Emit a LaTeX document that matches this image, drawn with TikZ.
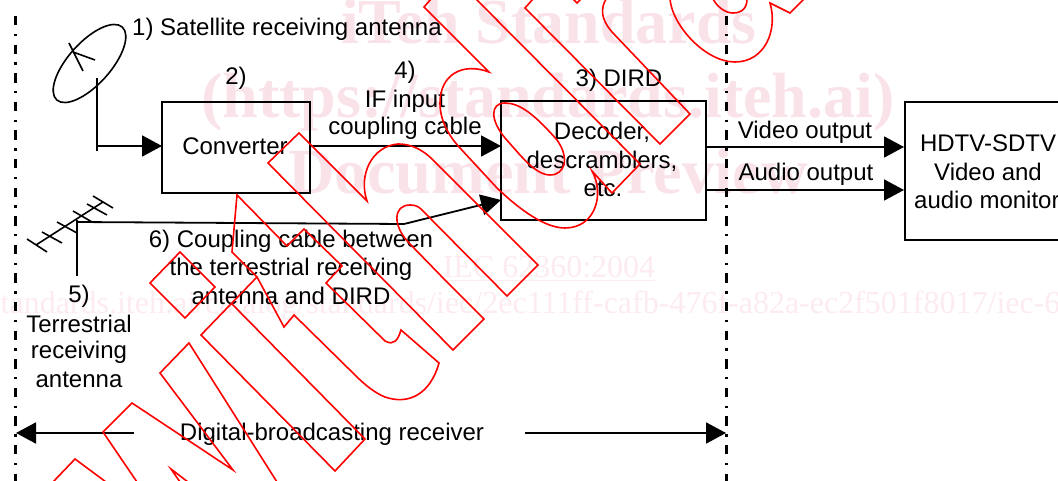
\documentclass[tikz,border=0pt]{standalone}
\usepackage{fontspec}
\usetikzlibrary{arrows.meta}
\setmainfont{Liberation Sans}
\newfontfamily\wmfont{Liberation Serif}
\definecolor{wmA}{HTML}{F9E3E9}
\definecolor{wmB}{HTML}{FCEBF0}
\tikzset{
  lbl/.style={inner sep=0pt,align=center,font=\fontsize{24}{28}\selectfont,text=black},
  boxn/.style={draw=black,line width=2pt,inner sep=0pt,fill=none},
  conn/.style={draw=black,line width=1.8pt,-{Triangle[length=20pt,width=21pt]}},
  wire/.style={draw=black,line width=1.6pt},
  border/.style={draw=black,line width=3.2pt,dash pattern=on 9.4pt off 8.4pt on 2.4pt off 8.4pt},
  wmbig/.style={inner sep=0pt,text=wmA,font=\wmfont\bfseries\fontsize{64}{70}\selectfont},
  wmsmall/.style={inner sep=0pt,text=wmB,font=\wmfont\fontsize{32}{36}\selectfont},
  redl/.style={draw=red,line width=1.6pt,line join=miter}
}
\begin{document}
\begin{tikzpicture}[x=1pt,y=-1pt]
\useasboundingbox (0,0) rectangle (1058,481);
\begin{scope}
\clip (0,0) rectangle (1058,481);
% pale watermark text
\node[wmbig,anchor=base] (wm1) at (549,44) {iTeh Standards};
\node[wmbig,anchor=base] (wm2) at (548,118) {(https://standards.iteh.ai)};
\node[wmbig,anchor=base] (wm3) at (548,194) {\fontsize{64.4}{70}\selectfont Document Preview};
\node[wmsmall,anchor=base] (wm4) at (549,278) {\underline{IEC 62360:2004}};
\node[wmsmall,anchor=base west] (wm5) at (-12,313) {standards.iteh.ai/catalog/standards/iec/2ec111ff-cafb-476f-a82a-ec2f501f8017/iec-62360-2004};
\end{scope}
% boundaries
\coordinate (bl1) at (15.5,16); \coordinate (bl2) at (15.5,481);
\coordinate (br1) at (726.5,16); \coordinate (br2) at (726.5,481);
\draw[border] (bl1) -- (bl2);
\draw[border] (br1) -- (br2);
% boxes
\node[boxn,minimum width=148pt,minimum height=91pt] (conv) at (236,148) {};
\node[boxn,minimum width=205pt,minimum height=119pt] (dird) at (603,160.5) {};
\node[boxn,minimum width=200pt,minimum height=138pt,anchor=north west] (mon) at (903.5,101.5) {};
% dish
\draw[wire,rotate around={48:(89.5,63.5)}] (89.5,63.5) ellipse [x radius=49pt,y radius=21pt];
\draw[wire] (69,43) -- (83,71);
\draw[wire] (73,52) -- (95,60);
\coordinate (d1) at (97,78); \coordinate (d2) at (97,151); \coordinate (d3) at (97,146);
\draw[wire] (d1) -- (d2);
\coordinate (convin) at (162,146);
\draw[conn] (d3) -- (convin);
\coordinate (convout) at (310,146); \coordinate (dirdin) at (501,146);
\draw[conn] (convout) -- (dirdin);
\coordinate (vo1) at (705,147); \coordinate (vo2) at (904,147);
\coordinate (ao1) at (705,190); \coordinate (ao2) at (904,190);
\draw[conn] (vo1) -- (vo2);
\draw[conn] (ao1) -- (ao2);
% yagi
\draw[wire] (36,245) -- (103,202);
\draw[wire] (27,239) -- (47,252);
\draw[wire] (42,232) -- (62,243);
\draw[wire] (57,222) -- (77,233);
\draw[wire] (73,211) -- (92,222);
\draw[wire] (87,204) -- (107,215);
\draw[wire] (93,196) -- (113,208);
\draw[wire] (77,220) -- (77,276);
\draw[wire] (77,222) -- (92,222);
\coordinate (t1) at (77,222); \coordinate (t2) at (404,224); \coordinate (t3) at (501,200);
\draw[conn] (t1) -- (t2) -- (t3);
% receiver span
\coordinate (sl1) at (134,433); \coordinate (sl2) at (16,433);
\coordinate (sr1) at (525,433); \coordinate (sr2) at (726,433);
\draw[conn] (sl1) -- (sl2);
\draw[conn] (sr1) -- (sr2);
% labels
\node[lbl,anchor=west] (l1) at (132,29.5) {1) Satellite receiving antenna};
\node[lbl] (l2) at (236,78) {2)};
\node[lbl] (l4) at (405,72) {4)};
\node[lbl] (l4a) at (405,101) {IF input};
\node[lbl] (l4b) at (405,128) {coupling cable};
\node[lbl] (lconv) at (235,146) {Converter};
\node[lbl] (l3) at (619,80) {3) DIRD};
\node[lbl] (ld1) at (602,132) {Decoder,};
\node[lbl] (ld2) at (602,161) {descramblers,};
\node[lbl] (ld3) at (603,189) {etc.};
\node[lbl] (lv) at (805,132) {Video output};
\node[lbl] (la) at (806,174) {Audio output};
\node[lbl] (lm1) at (988,143) {HDTV-SDTV};
\node[lbl] (lm2) at (988,172) {Video and};
\node[lbl,anchor=west] (lm3) at (914,200) {audio monitor};
\node[lbl] (l6a) at (291,241) {6) Coupling cable between};
\node[lbl] (l6b) at (291,269) {the terrestrial receiving};
\node[lbl] (l6c) at (291,296) {antenna and DIRD};
\node[lbl] (l5) at (79,296) {5)};
\node[lbl] (l5a) at (79,324) {Terrestrial};
\node[lbl] (l5b) at (79,352) {receiving};
\node[lbl] (l5c) at (79,380) {antenna};
\node[lbl] (lr) at (332,434.5) {Digital-broadcasting receiver};
% red outlined watermark letters
\begin{scope}
\clip (0,0) rectangle (1058,481);
\draw[redl] (53,482) -- (75,459) -- (106,482);
\draw[redl] (180,482) -- (171,469) -- (188,482);
\draw[redl] (277,482) -- (189,343) -- (160,373) -- (233,470) -- (132,403) -- (103,432) -- (137,482);
\draw[redl] (150,283) -- (180,252) -- (215,287) -- (185,318) -- cycle;
\draw[redl] (257,277) -- (201,335) -- (335,471) -- (365,439) -- (232,304);
\draw[redl] (237,195) -- (287,246) -- (304,229) -- (342,266) -- (326,283) -- (385,341)
  .. controls (394,346) and (398,340) .. (401,330) -- (439,363)
  .. controls (430,395) and (408,405) .. (385,397)
  .. controls (375,393) and (365,385) .. (356,376)
  -- (294,315) -- (284,327) -- (257,277) -- (232,252) -- cycle;
\draw[redl] (484,319) -- (445,280) -- (410,244)
  .. controls (392,226) and (393,205) .. (410,205)
  .. controls (414,205) and (418,206) .. (421,209)
  -- (507,296) -- (538,265) -- (433,160)
  .. controls (420,147) and (408,144) .. (398,144)
  .. controls (372,146) and (358,175) .. (367,201)
  -- (299,133) -- (268,163) -- (453,350) -- cycle;
\draw[redl] (431,-1) -- (424,7) -- (489,72)
  .. controls (462,62) and (440,75) .. (440,103)
  .. controls (440,120) and (448,135) .. (460,148)
  -- (497,188)
  .. controls (520,210) and (545,228) .. (565,228)
  .. controls (595,228) and (605,195) .. (592,171)
  -- (612,193) -- (640,164) -- (476,-1);
\draw[redl] (557,140) .. controls (570,158) and (565,175) .. (550,175)
  .. controls (540,175) and (530,166) .. (520,155)
  -- (505,138) .. controls (490,120) and (490,103) .. (505,103)
  .. controls (520,103) and (535,115) .. (557,140) -- cycle;
\draw[redl] (533,-1) -- (525,8) -- (660,144) -- (690,114) -- (612,32)
  .. controls (600,18) and (601,8) .. (606,-1);
\draw[redl] (670,-1) .. controls (672,25) and (705,62) .. (735,62)
  .. controls (765,62) and (778,30) .. (770,3) -- (790,13) -- (804,-1);
\draw[redl] (713,-1) .. controls (718,8) and (726,13) .. (733,13)
  .. controls (742,13) and (747,8) .. (747,-1);
\draw[redl] (573,-1) -- (577,3) -- (581,-1);
\end{scope}
\end{tikzpicture}
\end{document}
